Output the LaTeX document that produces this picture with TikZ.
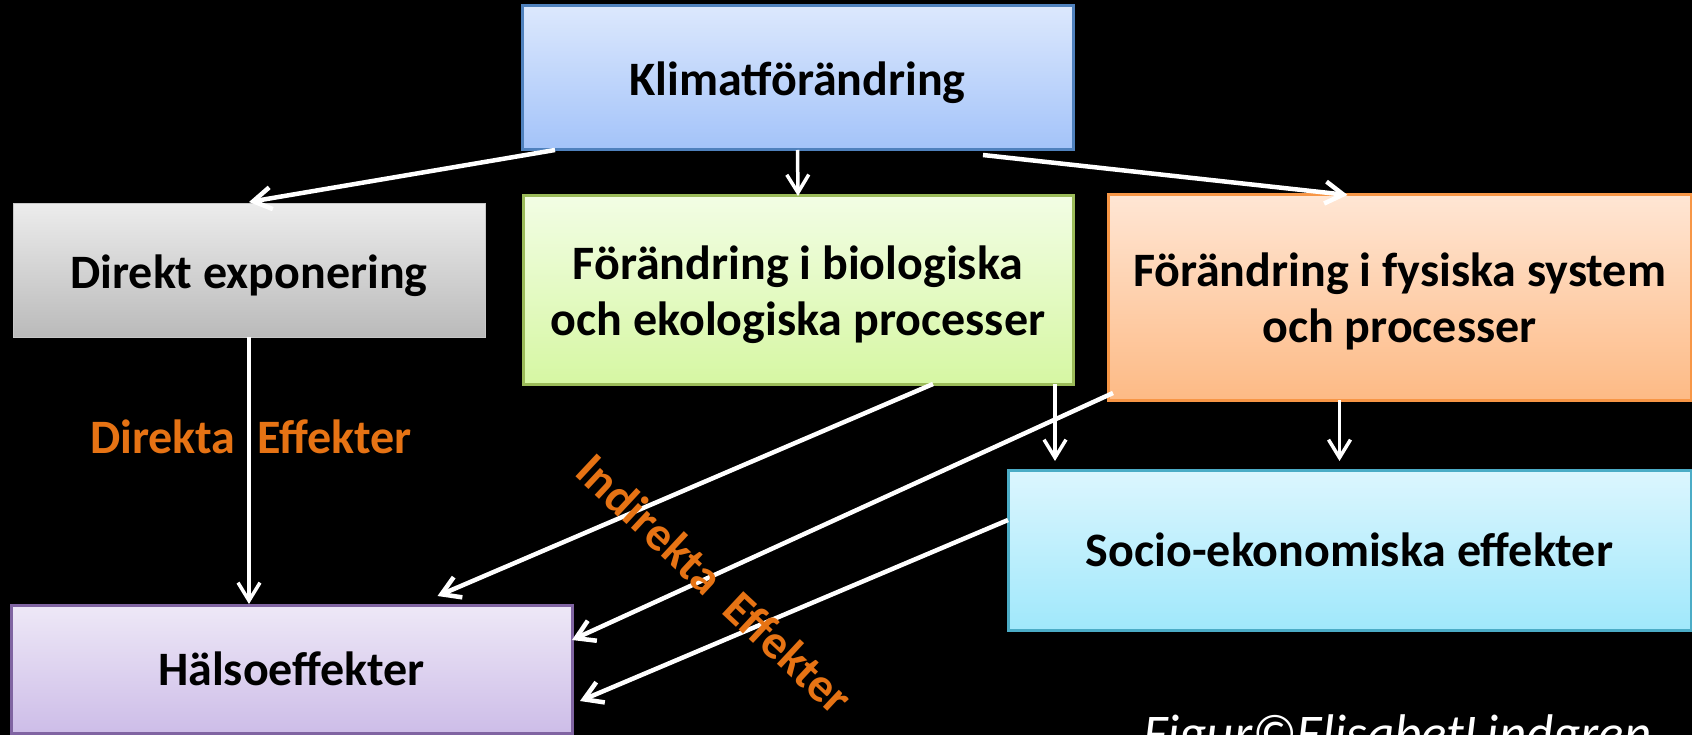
\documentclass[tikz,border=0pt]{standalone}
\usepackage{fontspec}
\setmainfont{Carlito}
\usetikzlibrary{arrows.meta,calc}
\definecolor{kTop}{RGB}{220,232,253}
\definecolor{kBot}{RGB}{163,195,249}
\definecolor{kLine}{RGB}{79,129,189}
\definecolor{dTop}{RGB}{236,236,236}
\definecolor{dBot}{RGB}{186,186,186}
\definecolor{dLine}{RGB}{200,200,200}
\definecolor{gTop}{RGB}{242,253,228}
\definecolor{gBot}{RGB}{214,247,163}
\definecolor{gLine}{RGB}{155,187,89}
\definecolor{oTop}{RGB}{255,230,212}
\definecolor{oBot}{RGB}{253,186,133}
\definecolor{oLine}{RGB}{247,150,70}
\definecolor{sTop}{RGB}{220,246,254}
\definecolor{sBot}{RGB}{160,232,251}
\definecolor{sLine}{RGB}{75,172,198}
\definecolor{hTop}{RGB}{238,232,247}
\definecolor{hBot}{RGB}{205,189,232}
\definecolor{hLine}{RGB}{128,100,162}
\definecolor{lblOrange}{RGB}{230,115,20}
\begin{document}
\begin{tikzpicture}[x=1pt,y=-1pt,
  box/.style={rectangle, inner sep=0pt, outer sep=0pt, line width=3pt,
    font=\fontsize{48}{56}\selectfont\bfseries, text=black, align=center},
  oneline/.style={box, text height=41pt, text depth=9pt},
  conn/.style={draw=white, line width=3.5pt, -{Straight Barb[length=18pt,width=22pt]}},
  thick conn/.style={conn, line width=4.5pt},
  lbl/.style={font=\fontsize{48}{56}\selectfont\bfseries, text=lblOrange, inner sep=0pt}]
\fill[black] (0,0) rectangle (1692,735);
\useasboundingbox (0,0) rectangle (1692,735);

\node[oneline, text height=44pt, text depth=8pt, draw=kLine, top color=kTop, bottom color=kBot,
  minimum width=551pt, minimum height=144pt] (k) at (797.5,78) {Klimatförändring};
\node[oneline, text height=45pt, text depth=8pt, draw=dLine, line width=1pt, top color=dTop, bottom color=dBot,
  minimum width=472pt, minimum height=133pt] (d) at (249,270.5) {Direkt exponering};
\node[box, draw=gLine, top color=gTop, bottom color=gBot,
  minimum width=550pt, minimum height=188pt] (g) at (798,290) {\rule{0pt}{44pt}Förändring i biologiska\\och ekologiska processer};
\node[box, draw=oLine, top color=oTop, bottom color=oBot,
  minimum width=583pt, minimum height=205pt] (o) at (1399.5,297.5) {\rule{0pt}{42pt}Förändring i fysiska system\\och processer};
\node[oneline, draw=sLine, top color=sTop, bottom color=sBot,
  minimum width=683pt, minimum height=160pt] (s) at (1349.5,550) {Socio-ekonomiska effekter};
\node[oneline, draw=hLine, top color=hTop, bottom color=hBot,
  minimum width=561pt, minimum height=128pt] (h) at (291.5,669) {Hälsoeffekter};

% connectors
\draw[thick conn] ([xshift=33pt]k.south west) -- ([yshift=2pt]d.north);
\draw[conn] (k.south) -- (g.north);
\draw[thick conn] ([xshift=-90pt,yshift=-5pt]k.south east) -- ([xshift=-52pt]o.north);
\draw[thick conn] ([xshift=135pt]g.south) -- ([xshift=146pt,yshift=9pt]h.north);
\draw[thick conn] ([xshift=5pt,yshift=7pt]o.south west) -- ([yshift=29pt]h.east);
\draw[thick conn] ([yshift=30pt]s.west) -- ([xshift=8pt,yshift=-32pt]h.east);
\coordinate (gs) at ([xshift=-18pt]g.south east);
\draw[conn, shorten >=9pt] (gs) -- (gs |- s.north);
\coordinate (os) at ([xshift=-60pt]o.south);
\draw[conn, shorten >=9pt] (os) -- (os |- s.north);
\draw[conn, shorten >=1pt] (d.south) -- (d.south |- h.north);

% labels
\node[lbl, anchor=base] (dl) at (251,453) {Direkta\ \ Effekter};
\node[lbl, rotate=-43] (il) at (715,584) {Indirekta\ \ Effekter};
\node[font=\fontsize{53}{60}\selectfont\itshape, text=white, inner sep=0pt, anchor=base west] (fig) at (1143,751) {Figur©ElisabetLindgren};
\end{tikzpicture}
\end{document}
